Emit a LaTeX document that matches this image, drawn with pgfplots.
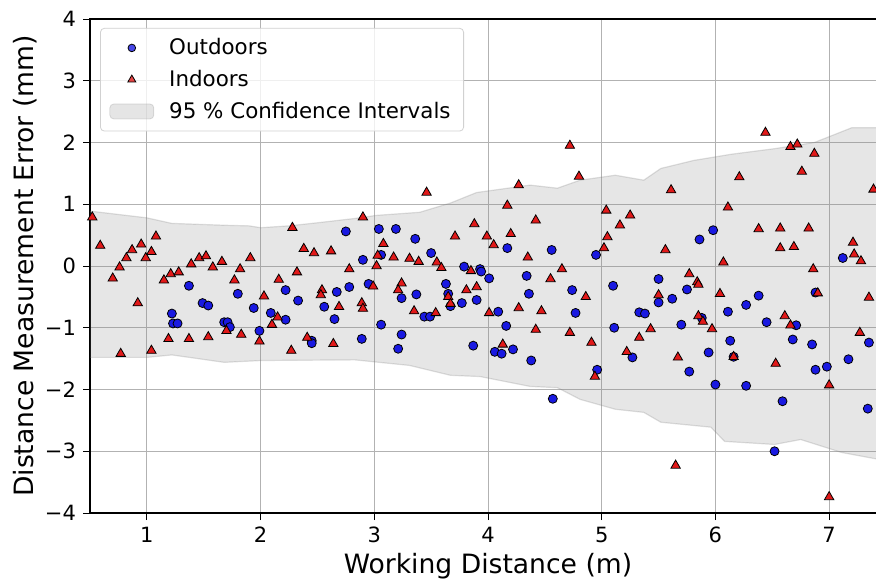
\documentclass[border=0pt]{standalone}
\usepackage{pgfplots}
\pgfplotsset{compat=1.18}
\usepackage{fontspec}
\setmainfont{DejaVu Sans}
\definecolor{outblue}{RGB}{25,25,225}
\definecolor{inred}{RGB}{225,25,25}
\pgfplotsset{
  circleg/.style={legend image code/.code={\draw[##1, mark size=1.9pt, mark repeat=2, mark phase=2] plot coordinates {(0pt,0pt) (11pt,0pt) (22pt,0pt)};}},
  trileg/.style={legend image code/.code={\draw[##1, mark size=2.3pt, mark repeat=2, mark phase=2] plot coordinates {(0pt,0pt) (11pt,0pt) (22pt,0pt)};}},
  bandleg/.style={legend image code/.code={\draw[##1] (0pt,-3.75pt) rectangle (22pt,3.75pt);}},
}
\pgfplotstableread{
x y
1.37 -0.32
1.49 -0.60
1.54 -0.64
1.22 -0.77
1.23 -0.93
1.27 -0.93
1.68 -0.91
2.75 0.56
1.80 -0.45
2.22 -0.39
1.94 -0.68
2.33 -0.56
2.09 -0.76
2.22 -0.87
1.71 -0.91
1.73 -0.99
1.99 -1.05
2.45 -1.21
2.45 -1.25
2.67 -0.42
2.78 -0.34
2.56 -0.66
2.65 -0.86
3.04 0.60
3.19 0.60
3.36 0.44
2.90 0.10
3.06 0.18
3.50 0.21
3.79 -0.01
3.93 -0.05
3.94 -0.09
2.95 -0.29
3.37 -0.46
3.24 -0.52
3.63 -0.29
3.65 -0.45
3.67 -0.65
3.77 -0.60
3.90 -0.55
3.44 -0.82
3.49 -0.82
3.06 -0.95
2.89 -1.18
3.24 -1.11
3.21 -1.34
3.87 -1.29
4.17 0.29
4.56 0.26
4.95 0.18
4.01 -0.20
4.34 -0.16
4.36 -0.45
4.74 -0.39
5.10 -0.32
4.09 -0.74
4.77 -0.76
4.16 -0.97
5.11 -1.00
4.06 -1.39
4.12 -1.42
4.22 -1.35
4.38 -1.53
4.96 -1.68
4.57 -2.15
5.98 0.58
5.86 0.43
5.50 -0.21
5.75 -0.38
5.62 -0.53
5.50 -0.59
5.33 -0.75
5.38 -0.77
6.11 -0.74
6.27 -0.63
5.70 -0.95
5.88 -0.84
6.13 -1.21
5.94 -1.40
6.16 -1.47
5.27 -1.48
5.77 -1.71
6.00 -1.92
6.27 -1.94
7.12 0.13
6.38 -0.48
6.45 -0.91
6.71 -0.96
6.68 -1.19
6.85 -1.27
7.35 -1.24
7.17 -1.51
6.88 -1.68
6.98 -1.63
6.59 -2.19
7.34 -2.31
6.52 -3.00
6.88 -0.43
}\outdoors
\pgfplotstableread{
x y
0.52 0.79
0.59 0.33
0.70 -0.20
0.76 -0.02
0.82 0.13
0.87 0.26
0.95 0.35
0.99 0.13
1.04 0.23
1.08 0.48
0.92 -0.60
0.77 -1.42
1.04 -1.37
1.19 -1.18
1.37 -1.18
1.54 -1.15
1.15 -0.23
1.21 -0.13
1.28 -0.10
1.39 0.03
1.46 0.13
1.52 0.16
1.58 -0.02
1.66 0.07
2.28 0.62
2.38 0.28
2.47 0.21
2.62 0.24
1.91 0.13
1.82 -0.05
1.77 -0.23
2.32 -0.10
2.16 -0.22
2.78 -0.05
2.03 -0.49
2.54 -0.39
2.53 -0.47
2.69 -0.66
2.15 -0.83
2.10 -0.95
1.70 -1.05
1.83 -1.11
1.99 -1.22
2.41 -1.16
2.64 -1.26
2.27 -1.37
3.46 1.19
2.90 0.79
3.88 0.68
3.71 0.48
3.08 0.36
3.03 0.17
3.17 0.14
3.31 0.12
3.39 0.07
3.55 0.06
3.59 -0.03
3.02 0.00
3.85 -0.08
3.24 -0.28
3.21 -0.39
2.99 -0.33
2.89 -0.60
2.90 -0.69
3.65 -0.50
3.67 -0.61
3.81 -0.39
3.90 -0.34
3.35 -0.73
3.54 -0.76
4.72 1.95
4.80 1.45
4.27 1.31
4.17 0.98
5.04 0.90
4.42 0.74
4.20 0.52
5.05 0.47
3.99 0.48
4.05 0.34
5.02 0.29
4.35 0.14
4.65 -0.05
4.55 -0.21
4.86 -0.50
4.27 -0.68
4.47 -0.73
4.01 -0.76
4.42 -1.03
4.72 -1.08
4.91 -1.24
4.13 -1.27
4.94 -1.79
6.21 1.44
5.61 1.23
6.11 0.95
5.25 0.82
5.16 0.66
5.56 0.26
6.07 0.06
5.77 -0.13
5.84 -0.26
5.85 -0.30
5.50 -0.47
6.04 -0.45
5.85 -0.81
5.89 -0.90
5.97 -1.02
5.43 -1.02
5.33 -1.16
5.22 -1.39
5.67 -1.48
6.16 -1.47
5.65 -3.23
6.44 2.16
6.66 1.93
6.72 1.97
6.87 1.82
6.76 1.53
7.39 1.24
6.38 0.60
6.57 0.61
6.82 0.61
6.57 0.29
6.69 0.31
7.21 0.38
7.22 0.19
7.28 0.08
6.86 -0.05
6.90 -0.44
7.35 -0.51
6.61 -0.81
6.66 -0.96
7.27 -1.08
6.53 -1.58
7.00 -1.93
7.00 -3.74
}\indoors
\begin{document}
\begin{tikzpicture}
\begin{axis}[
  at={(0,0)}, anchor=south west,
  scale only axis, width=398pt, height=247pt,
  xmin=0.5, xmax=7.5, ymin=-4, ymax=4,
  xtick={1,2,3,4,5,6,7}, ytick={-4,-3,-2,-1,0,1,2,3,4},
  xticklabels={1,2,3,4,5,6,7},
  yticklabels={−4,−3,−2,−1,0,1,2,3,4},
  tick align=outside, tick pos=left,
  major tick length=3.5pt,
  every tick/.style={black, line width=0.5pt},
  grid=major, grid style={color=black!30, line width=0.5pt},
  axis line style={line width=0.6pt},
  tick label style={font=\fontsize{10.5}{12}\selectfont},
  label style={font=\fontsize{13.3}{15}\selectfont},
  xlabel={Working Distance (m)},
  ylabel={Distance Measurement Error (mm)},
  xlabel style={at={(axis description cs:0.5,0)}, anchor=base, yshift=-30pt},
  ylabel style={at={(axis description cs:0,0.5)}, anchor=north, yshift=38.5pt, inner sep=0pt},
  legend cell align=left,
  legend style={at={(0.0126,0.982)}, anchor=north west, draw=black!18,
    rounded corners=2pt, fill=white, fill opacity=0.8, text opacity=1,
    font=\fontsize{10.7}{12}\selectfont, row sep=2.25pt, inner xsep=4.5pt, inner ysep=3pt,
    /tikz/every odd column/.append style={column sep=5.5pt}},
]
\addplot[fill=gray, fill opacity=0.2, draw=gray, draw opacity=0.25, line width=0.6pt, forget plot] coordinates {
(0.45,0.90) (1.0,0.78) (1.22,0.69) (1.68,0.66) (1.90,0.65) (2.0,0.62) (2.25,0.65) (2.5,0.70) (2.83,0.77) (3.02,0.82) (3.40,0.87) (3.67,1.02) (3.90,1.19) (4.37,1.31) (4.61,1.26) (4.81,1.39) (5.12,1.47) (5.37,1.39) (5.52,1.58) (5.81,1.71) (6.14,1.81) (6.52,1.90) (6.87,2.0) (7.20,2.24) (7.55,2.24)
(7.55,-3.17) (7.11,-3.02) (6.75,-2.81) (6.52,-2.89) (6.08,-2.84) (5.96,-2.61) (5.52,-2.53) (5.37,-2.37) (5.12,-2.32) (4.81,-2.16) (4.61,-1.97) (4.37,-1.95) (3.93,-1.79) (3.67,-1.77) (3.31,-1.61) (2.83,-1.52) (2.01,-1.53) (1.68,-1.56) (1.22,-1.44) (1.0,-1.48) (0.45,-1.48)
} -- cycle;
\addplot[only marks, mark=*, mark size=2.25pt, mark options={fill=outblue, draw=black, line width=0.4pt}, circleg] table {\outdoors};
\addlegendentry{Outdoors}
\addplot[only marks, mark=triangle*, mark size=2.7pt, mark options={fill=inred, draw=black, line width=0.4pt}, trileg] table {\indoors};
\addlegendentry{Indoors}
\addlegendimage{fill=gray, fill opacity=0.2, draw=gray, draw opacity=0.25, bandleg}
\addlegendentry{95 \% Confidence Intervals}
\end{axis}
\pgfresetboundingbox
\path[use as bounding box] (-45pt,-33.5pt) rectangle (393pt,256.5pt);
\end{tikzpicture}
\end{document}
